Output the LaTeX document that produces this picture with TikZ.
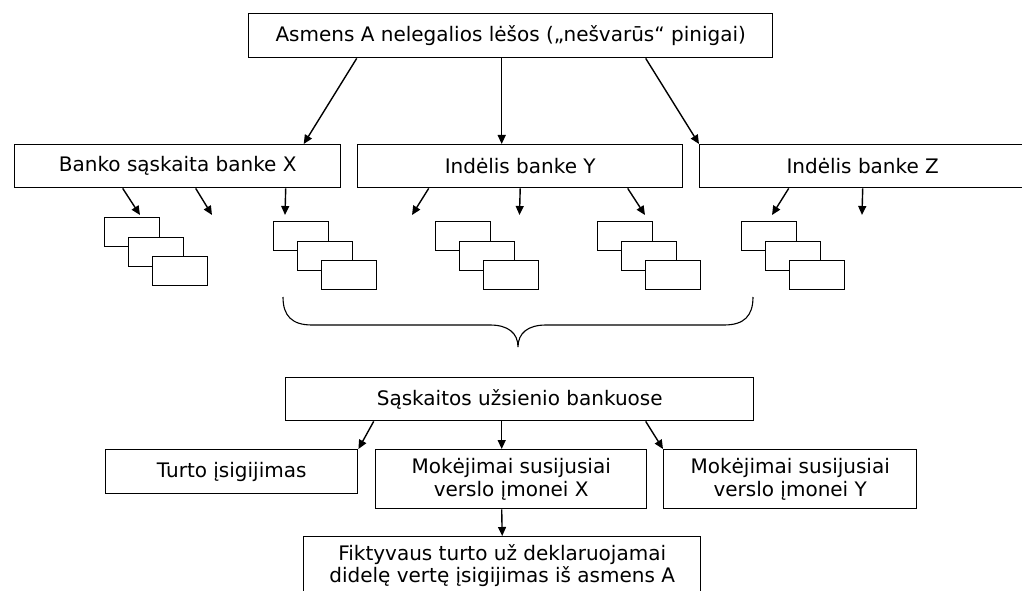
\documentclass[tikz,border=0pt]{standalone}
\usepackage{fontspec}
\setmainfont{DejaVu Sans}
\usetikzlibrary{arrows.meta}

\begin{document}
\begin{tikzpicture}[x=1pt,y=-1pt,>={Triangle[length=9pt,width=8pt]},line width=1.4pt,
  box/.style={draw,rectangle,inner sep=0pt,anchor=north west,align=center,
    font=\fontsize{20}{22.5}\selectfont},
  card/.style={draw,fill=white,rectangle,inner sep=0pt,anchor=north west,
    minimum width=55pt,minimum height=29pt}]
  \path[use as bounding box,clip] (0,0) rectangle (1022,591);

  \node[box,minimum width=524,minimum height=44] (top) at (248,13)
    {Asmens A nelegalios lėšos („nešvarūs“ pinigai)};
  \node[box,minimum width=326,minimum height=43] (bx) at (14,144) {Banko sąskaita banke X};
  \node[box,minimum width=325,minimum height=43] (by) at (357,144) {Indėlis banke Y};
  \node[box,minimum width=326,minimum height=43] (bz) at (699,144) {Indėlis banke Z};

  \draw[->] ([xshift=-154]top.south) -- ([xshift=126]bx.north);
  \draw[->] ([xshift=-9]top.south) -- ([xshift=-18.5]by.north);
  \draw[->] ([xshift=135]top.south) -- (bz.north west);

  % saskaitu krūvelės
  \foreach \sx/\sy [count=\i] in {104/217,273/221,435/221,597/221,741/221}
    \foreach \k in {0,1,2}
      \node[card] (c\i\k) at (\sx+24*\k,\sy+19.5*\k) {};

  \foreach \b/\dx/\tx [count=\j] in {bx/-55/140,bx/18/212,bx/108/285,by/-91.5/412,
      by/0/519.5,by/107.5/645,bz/-74/772,bz/0/862}
  {
    \coordinate (t\j) at (\tx,215);
    \draw[->] ([xshift=\dx]\b.south) -- (t\j);
  }

  % brace
  \draw[line width=1.1pt] (283,297) .. controls (283,316) and (292,325) .. (312,325)
    -- (490,325) .. controls (508,325) and (518,333) .. (518,347)
    .. controls (518,333) and (528,325) .. (546,325) -- (724,325)
    .. controls (744,325) and (753,316) .. (753,297);

  \node[box,minimum width=468,minimum height=43] (sa) at (285,377) {Sąskaitos užsienio bankuose};
  \node[box,minimum width=252,minimum height=44] (turto) at (105,449) {Turto įsigijimas};
  \node[box,minimum width=271,minimum height=59] (mx) at (375,449)
    {Mokėjimai susijusiai\\verslo įmonei X};
  \node[box,minimum width=253,minimum height=59] (my) at (663,449)
    {Mokėjimai susijusiai\\verslo įmonei Y};
  \node[box,minimum width=397,minimum height=58] (fik) at (303,536)
    {Fiktyvaus turto už deklaruojamai\\didelę vertę įsigijimas iš asmens A};

  \draw[->] ([xshift=-146]sa.south) -- (turto.north east);
  \draw[->] ([xshift=-18]sa.south) -- ([xshift=-9.5]mx.north);
  \draw[->] ([xshift=126]sa.south) -- (my.north west);
  \draw[->] ([xshift=-9.5]mx.south) -- (fik.north);
\end{tikzpicture}
\end{document}
